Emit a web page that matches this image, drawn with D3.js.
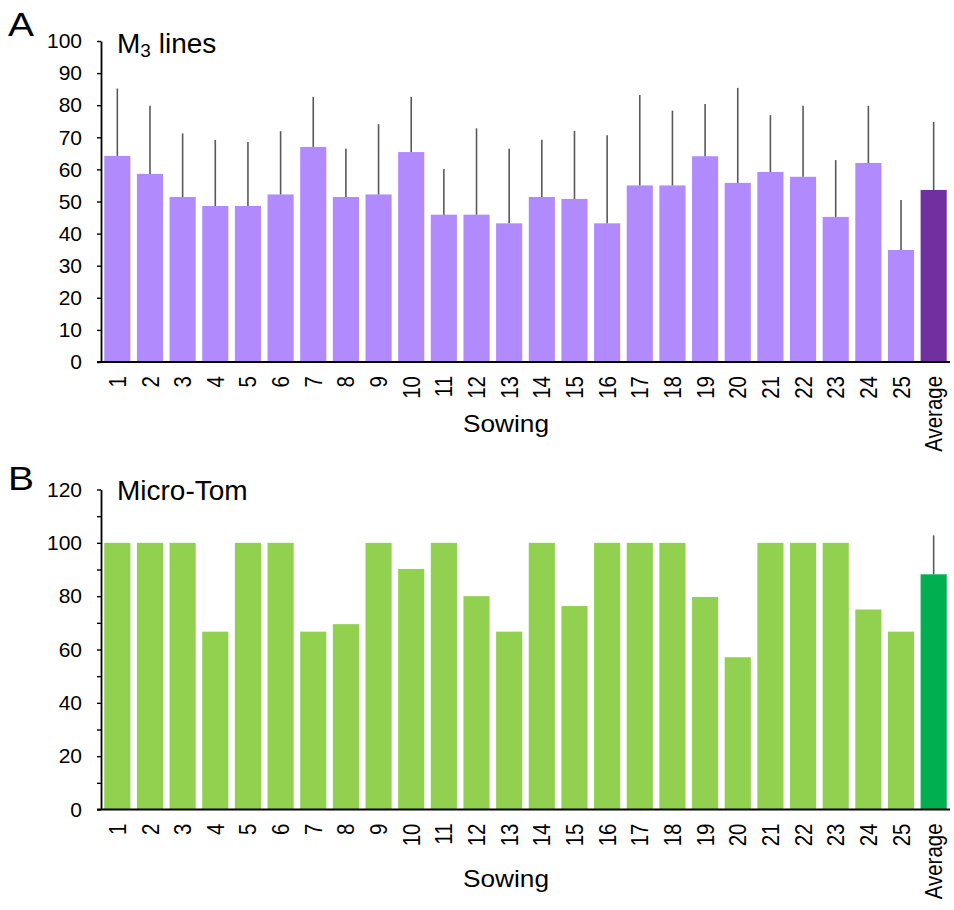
<!DOCTYPE html>
<html>
<head>
<meta charset="utf-8">
<script src="https://cdn.jsdelivr.net/npm/d3@7"></script>
<style>
  body { margin: 0; background: #fff; }
  svg { display: block; font-family: "Liberation Sans", Arial, sans-serif; }
</style>
</head>
<body>
<svg id="chart" width="954" height="910"></svg>
<script>
// categories
const sowing = ["1","2","3","4","5","6","7","8","9","10","11","12","13","14","15","16","17","18","19","20","21","22","23","24","25","Average"]

// panel A, M3 lines: mean and upper error (sd)
const m3Mean = [64.2,58.6,51.4,48.6,48.6,52.2,67.0,51.4,52.2,65.4,45.9,45.9,43.2,51.4,50.8,43.2,55.0,55.0,64.1,55.8,59.2,57.7,45.2,62.0,34.9,53.6]
const m3Sd   = [21.0,21.2,19.8,20.6,19.9,19.7,15.6,15.0,21.9,17.2,14.2,26.9,23.2,17.8,21.2,27.4,28.2,23.3,16.3,29.6,17.7,22.1,17.7,17.8,15.6,21.2]

// panel B, Micro-Tom
const mtMean = [100,100,100,66.7,100,100,66.7,69.5,100,90.2,100,80.0,66.7,100,76.3,100,100,100,79.7,57.1,100,100,100,75.0,66.7,88.2]
const mtSd   = [0,0,0,0,0,0,0,0,0,0,0,0,0,0,0,0,0,0,0,0,0,0,0,0,0,14.6]

const yTicksA = d3.range(0, 101, 10)
const yTicksB = d3.range(0, 121, 10)

const svg = d3.select("#chart")

const x = d3.scaleBand()
  .domain(sowing)
  .range([101, 950])
  .paddingInner(0.2)
  .paddingOuter(0.1)

function drawPanel(p) {
  let y = d3.scaleLinear().domain([0, p.max]).range([p.bottom, p.top])
  let g = svg.append("g")

  // bars
  g.selectAll("rect.bar")
    .data(p.mean)
    .join("rect")
      .attr("class", "bar")
      .attr("x", (d, i) => x(sowing[i]))
      .attr("width", x.bandwidth())
      .attr("y", d => y(d))
      .attr("height", d => p.bottom - y(d))
      .attr("fill", (d, i) => sowing[i] === "Average" ? p.avgColor : p.color)

  // upper error lines only
  g.selectAll("line.err")
    .data(p.mean.map((d, i) => ({ m: d, s: p.sd[i], k: sowing[i] })).filter(d => d.s > 0))
    .join("line")
      .attr("class", "err")
      .attr("x1", d => x(d.k) + x.bandwidth() / 2)
      .attr("x2", d => x(d.k) + x.bandwidth() / 2)
      .attr("y1", d => y(d.m))
      .attr("y2", d => y(d.m + d.s))
      .attr("stroke", "#595959")
      .attr("stroke-width", 1.6)

  // y axis
  let yAxis = d3.axisLeft(y)
    .tickValues(p.ticks)
    .tickSize(4)
    .tickSizeOuter(0)
    .tickPadding(15)
    .tickFormat(d => d % p.labelEvery === 0 ? d : "")
  let ya = g.append("g").attr("transform", "translate(101,0)").call(yAxis)
  ya.select(".domain").attr("stroke", "#000").attr("stroke-width", 1.8)
  ya.selectAll(".tick line").attr("stroke", "#000").attr("stroke-width", 1.4)
  ya.selectAll(".tick text")
    .attr("fill", "#000")
    .style("font-size", "21px")
    .style("font-family", "'Liberation Sans', Arial, sans-serif")

  // x axis line
  g.append("line")
    .attr("x1", 97).attr("x2", 950)
    .attr("y1", p.bottom).attr("y2", p.bottom)
    .attr("stroke", "#000").attr("stroke-width", 2)

  // rotated category labels
  g.selectAll("text.cat")
    .data(sowing)
    .join("text")
      .attr("class", "cat")
      .attr("transform", d => `translate(${x(d) + x.bandwidth() / 2},${p.bottom + 14}) rotate(-90) scale(0.93,1.08)`)
      .attr("text-anchor", "end")
      .attr("dy", "0.36em")
      .attr("fill", "#000")
      .style("font-size", "22px")
      .text(d => d)

  // axis title
  g.append("text")
    .attr("x", 506).attr("y", p.bottom + p.sowingOffset)
    .attr("text-anchor", "middle")
    .attr("fill", "#000")
    .style("font-size", "24px")
    .attr("textLength", 86)
    .attr("lengthAdjust", "spacingAndGlyphs")
    .text("Sowing")

  // panel letter
  g.append("text")
    .attr("x", 8).attr("y", p.letterY)
    .attr("fill", "#000")
    .style("font-size", "33px")
    .attr("textLength", 26)
    .attr("lengthAdjust", "spacingAndGlyphs")
    .text(p.letter)

  // panel title
  let t = g.append("text")
    .attr("x", 117).attr("y", p.titleY)
    .attr("fill", "#000")
    .style("font-size", "28px")
  p.title(t)
}

drawPanel({
  top: 41, bottom: 362, max: 100,
  ticks: yTicksA, labelEvery: 10,
  mean: m3Mean, sd: m3Sd,
  color: "#b18bfd", avgColor: "#7030a0",
  letter: "A", letterY: 36, titleY: 53, sowingOffset: 70,
  title: t => {
    t.append("tspan").text("M")
    t.append("tspan").attr("dy", 4).style("font-size", "19px").text("3")
    t.append("tspan").attr("dy", -4).text(" lines")
  }
})

drawPanel({
  top: 489.5, bottom: 809.5, max: 120,
  ticks: yTicksB, labelEvery: 20,
  mean: mtMean, sd: mtSd,
  color: "#92d050", avgColor: "#00b050",
  letter: "B", letterY: 490, titleY: 500, sowingOffset: 77,
  title: t => t.text("Micro-Tom")
})
</script>
</body>
</html>
